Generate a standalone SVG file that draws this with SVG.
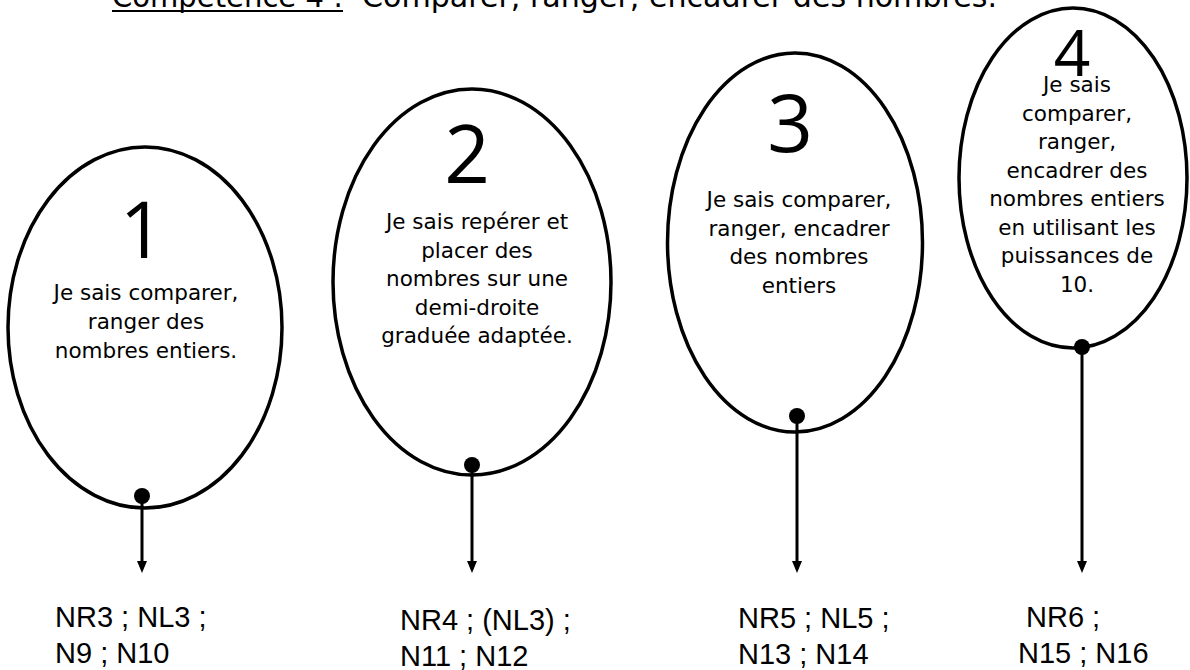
<svg xmlns="http://www.w3.org/2000/svg" width="1190" height="670" viewBox="0 0 1190 670">
<style>
  .bg { fill: #ffffff; }
  .oval { fill: none; stroke: #000; stroke-width: 3.5; }
  .dot { fill: #000; }
  .conn { stroke: #000; stroke-width: 3; fill: none; }
  .head { fill: #000; }
  .num { font-family: "Open Sans", "DejaVu Sans", sans-serif; font-weight: 400; fill: #000; text-anchor: middle; }
  .desc { font-family: "DejaVu Sans", Verdana, sans-serif; font-size: 21.5px; fill: #000; text-anchor: middle; }
  .code { font-family: "Liberation Sans", Arial, sans-serif; font-size: 29px; fill: #000; }
  .title { font-family: "DejaVu Sans", Verdana, sans-serif; font-size: 30px; fill: #000; }
</style>
<rect class="bg" x="0" y="0" width="1190" height="670"/>

<g id="title">
  <text class="title" x="112" y="7" textLength="231" lengthAdjust="spacingAndGlyphs">Compétence 4 :</text>
  <line x1="112" y1="11" x2="343" y2="11" stroke="#000" stroke-width="2"/>
  <text class="title" x="362" y="7" textLength="635" lengthAdjust="spacingAndGlyphs">Comparer, ranger, encadrer des nombres.</text>
</g>

<g id="node1">
  <ellipse class="oval" cx="145" cy="327.5" rx="137" ry="180.5"/>
  <text class="num" x="142" y="258" font-size="78">1</text>
  <text class="desc"><tspan x="146" y="300">Je sais comparer,</tspan><tspan x="146" y="329">ranger des</tspan><tspan x="146" y="358">nombres entiers.</tspan></text>
  <circle class="dot" cx="142" cy="496" r="8"/>
</g>

<g id="node2">
  <ellipse class="oval" cx="472" cy="282" rx="139" ry="193"/>
  <text class="num" x="467" y="183" font-size="80">2</text>
  <text class="desc"><tspan x="477" y="229">Je sais repérer et</tspan><tspan x="477" y="257.5">placer des</tspan><tspan x="477" y="286">nombres sur une</tspan><tspan x="477" y="314.5">demi-droite</tspan><tspan x="477" y="343">graduée adaptée.</tspan></text>
  <circle class="dot" cx="472" cy="465" r="8"/>
</g>

<g id="node3">
  <ellipse class="oval" cx="795" cy="242.5" rx="127.5" ry="189.5"/>
  <text class="num" x="790" y="152" font-size="80">3</text>
  <text class="desc"><tspan x="799" y="207">Je sais comparer,</tspan><tspan x="799" y="235.5">ranger, encadrer</tspan><tspan x="799" y="264">des nombres</tspan><tspan x="799" y="292.5">entiers</tspan></text>
  <circle class="dot" cx="797" cy="416" r="8"/>
</g>

<g id="node4">
  <ellipse class="oval" cx="1073" cy="178" rx="114" ry="170"/>
  <text class="num" x="1072" y="76" font-size="64">4</text>
  <text class="desc"><tspan x="1077" y="92">Je sais</tspan><tspan x="1077" y="120.5">comparer,</tspan><tspan x="1077" y="149">ranger,</tspan><tspan x="1077" y="177.5">encadrer des</tspan><tspan x="1077" y="206">nombres entiers</tspan><tspan x="1077" y="234.5">en utilisant les</tspan><tspan x="1077" y="263">puissances de</tspan><tspan x="1077" y="291.5">10.</tspan></text>
  <circle class="dot" cx="1082" cy="347" r="8"/>
</g>

<g id="connectors">
  <line class="conn" x1="142" y1="496" x2="142" y2="562"/>
  <polygon class="head" points="137,561 147,561 142,573"/>
  <line class="conn" x1="472" y1="465" x2="472" y2="562"/>
  <polygon class="head" points="467,561 477,561 472,573"/>
  <line class="conn" x1="797" y1="416" x2="797" y2="562"/>
  <polygon class="head" points="792,561 802,561 797,573"/>
  <line class="conn" x1="1082" y1="347" x2="1082" y2="562"/>
  <polygon class="head" points="1077,561 1087,561 1082,573"/>
</g>

<g id="label1">
  <text class="code" x="55" y="627">NR3 ; NL3 ;</text>
  <text class="code" x="55" y="663">N9 ; N10</text>
</g>
<g id="label2">
  <text class="code" x="400" y="630">NR4 ; (NL3) ;</text>
  <text class="code" x="400" y="666">N11 ; N12</text>
</g>
<g id="label3">
  <text class="code" x="738" y="628">NR5 ; NL5 ;</text>
  <text class="code" x="738" y="664">N13 ; N14</text>
</g>
<g id="label4">
  <text class="code" x="1026" y="627">NR6 ;</text>
  <text class="code" x="1018" y="663">N15 ; N16</text>
</g>
</svg>
